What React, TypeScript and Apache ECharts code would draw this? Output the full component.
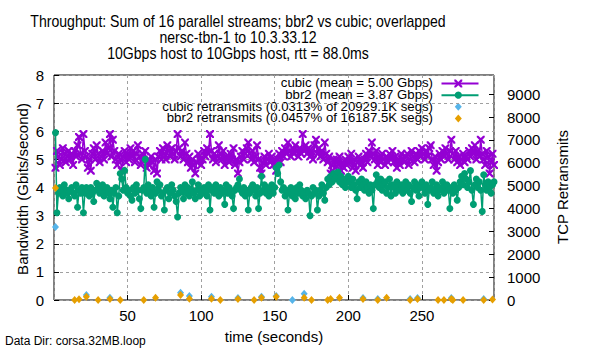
import React, { useEffect, useRef } from "react";
import * as echarts from "echarts";

const titleLines = [
  "Throughput: Sum of 16 parallel streams; bbr2 vs cubic; overlapped",
  "nersc-tbn-1 to 10.3.33.12",
  "10Gbps host to 10Gbps host, rtt = 88.0ms",
];
const legendLabels = [
  "cubic (mean = 5.00 Gbps)",
  "bbr2 (mean = 3.87 Gbps)",
  "cubic retransmits (0.0313% of 20929.1K segs)",
  "bbr2 retransmits (0.0457% of 16187.5K segs)",
];
const seriesNames = ["cubic", "bbr2", "cubic retransmits", "bbr2 retransmits"];
const colors = ["#9400D3", "#009E73", "#56B4E9", "#E69F00"];

const times = Array.from({ length: 299 }, (_, i) => i + 1);

const cubicGbps = [
  4.7, 5.3, 5.1, 4.8, 5.0, 5.4, 5.2, 4.9, 5.1, 5.3,
  5.0, 5.2, 4.8, 5.3, 5.1, 5.5, 5.8, 5.2, 5.0, 5.9,
  5.3, 5.1, 4.7, 5.0, 4.6, 5.2, 5.4, 5.0, 5.5, 5.2,
  4.9, 5.1, 5.3, 5.0, 5.6, 5.2, 5.4, 5.9, 5.1, 5.7,
  5.3, 5.0, 4.8, 5.2, 5.0, 4.6, 5.1, 5.3, 4.9, 5.2,
  5.0, 5.4, 5.1, 5.3, 4.9, 5.2, 5.5, 5.1, 4.8, 5.2,
  5.0, 5.3, 4.7, 5.0, 4.8, 5.1, 4.9, 4.6, 5.0, 4.5,
  5.1, 5.3, 5.0, 5.4, 5.2, 5.0, 5.5, 5.3, 5.1, 5.4,
  5.2, 5.0, 5.3, 5.9, 5.4, 5.1, 5.3, 5.0, 5.6, 5.2,
  4.9, 5.1, 4.7, 5.0, 4.8, 4.5, 4.9, 5.2, 5.0, 4.8,
  5.0, 5.3, 5.1, 5.4, 5.2, 5.9, 5.3, 5.0, 5.2, 4.9,
  5.1, 5.5, 5.2, 5.0, 5.3, 4.8, 5.1, 5.0, 4.9, 5.2,
  5.0, 5.4, 4.8, 5.0, 4.5, 4.9, 5.1, 5.3, 5.0, 5.2,
  5.4, 5.6, 5.2, 5.0, 5.3, 4.9, 5.1, 5.5, 5.0, 4.7,
  4.5, 4.9, 5.1, 4.8, 5.0, 5.2, 4.9, 5.1, 4.8, 5.0,
  4.6, 5.0, 5.2, 4.9, 5.3, 5.1, 5.4, 5.2, 5.6, 5.3,
  5.1, 5.4, 5.2, 5.5, 5.3, 5.1, 5.4, 5.2, 5.9, 5.3,
  5.5, 5.2, 5.4, 5.1, 5.3, 5.0, 5.5, 5.7, 5.2, 5.4,
  5.1, 5.3, 5.0, 5.6, 5.2, 4.9, 5.1, 4.5, 4.8, 5.0,
  4.7, 5.0, 4.8, 5.1, 4.6, 4.9, 4.7, 5.0, 4.8, 5.1,
  4.9, 5.2, 4.7, 5.0, 4.6, 4.9, 5.1, 4.8, 5.0, 4.7,
  5.0, 5.2, 4.9, 5.3, 5.1, 5.6, 5.2, 5.0, 5.3, 4.8,
  5.1, 4.9, 5.2, 5.0, 4.8, 5.1, 4.9, 5.2, 5.0, 5.3,
  4.9, 5.1, 4.7, 5.0, 4.8, 5.2, 5.0, 4.9, 5.1, 5.2,
  4.8, 5.0, 5.3, 5.1, 4.9, 5.2, 5.0, 5.3, 5.1, 5.4,
  5.2, 5.0, 5.3, 5.1, 5.4, 5.5, 5.0, 4.8, 5.1, 4.6,
  4.9, 5.2, 5.0, 5.3, 5.1, 5.4, 5.2, 5.0, 5.3, 5.7,
  5.2, 5.0, 5.3, 4.9, 5.1, 4.8, 5.0, 5.2, 4.9, 5.1,
  5.0, 5.3, 5.1, 5.4, 5.2, 5.5, 5.0, 5.3, 5.1, 5.7,
  5.2, 5.0, 4.8, 5.3, 5.1, 4.5, 4.9, 5.2, 4.8,
];

const bbr2Gbps = [
  5.95, 3.1, 3.8, 4.0, 3.9, 3.7, 4.1, 3.8, 3.9, 3.6,
  3.9, 4.0, 3.8, 3.7, 4.1, 3.3, 3.9, 3.8, 4.0, 3.1,
  3.8, 4.0, 3.9, 3.7, 4.0, 3.8, 3.5, 3.9, 4.15, 4.0,
  3.8, 3.9, 4.1, 3.7, 3.9, 4.0, 3.8, 3.6, 3.9, 3.3,
  3.8, 4.0, 3.1, 3.7, 4.5, 4.3, 3.9, 4.6, 4.0, 3.8,
  3.9, 3.7, 3.55, 4.0, 3.8, 4.1, 3.9, 3.6, 3.25, 3.9,
  4.0, 5.0, 3.8, 4.1, 3.9, 3.7, 4.0, 3.3, 3.8, 4.2,
  3.9, 4.1, 3.7, 3.8, 3.2, 3.9, 4.0, 3.6, 3.8, 4.1,
  3.9, 3.7, 3.5, 2.95, 3.8, 4.0, 3.9, 3.6, 4.1, 3.8,
  4.0, 3.7, 3.9, 4.2, 3.8, 3.6, 3.9, 4.1, 3.7, 3.9,
  3.8, 4.0, 3.9, 3.7, 4.1, 3.2, 3.9, 4.0, 3.8, 4.1,
  3.9, 3.7, 4.0, 3.8, 3.9, 3.4, 4.1, 3.8, 4.0, 3.9,
  3.7, 3.25, 3.9, 4.0, 4.1, 4.3, 3.9, 3.8, 4.0, 3.7,
  3.9, 3.2, 3.8, 4.0, 4.1, 3.9, 3.7, 4.0, 3.25, 3.8,
  4.4, 3.9, 4.1, 3.8, 4.0, 3.7, 3.9, 4.1, 3.8, 4.0,
  4.7, 4.5, 4.8, 4.2, 3.9, 4.0, 3.7, 3.9, 3.2, 3.8,
  4.0, 3.7, 3.9, 3.6, 4.0, 3.8, 4.1, 3.9, 3.7, 3.8,
  3.6, 3.9, 3.8, 3.0, 3.7, 4.0, 3.8, 3.9, 3.2, 3.7,
  3.9, 4.1, 3.8, 3.55, 4.0, 4.3, 4.1, 4.4, 4.2, 4.5,
  4.3, 4.4, 4.55, 4.2, 4.4, 4.1, 4.3, 4.0, 4.2, 4.4,
  4.2, 4.0, 4.3, 4.1, 3.9, 3.6, 4.2, 4.0, 4.3, 4.1,
  3.9, 4.2, 4.0, 3.8, 4.1, 3.9, 3.25, 4.1, 4.45, 4.2,
  4.0, 4.3, 3.9, 4.1, 4.2, 3.8, 4.0, 4.3, 3.7, 4.1,
  4.0, 3.8, 4.2, 4.0, 3.9, 4.1, 3.8, 4.0, 4.2, 3.9,
  4.1, 3.8, 3.5, 4.0, 4.2, 3.9, 4.1, 3.7, 4.0, 4.2,
  4.0, 3.8, 4.1, 3.4, 3.9, 4.0, 4.2, 3.8, 3.9, 4.1,
  3.7, 4.0, 3.9, 4.2, 3.8, 4.0, 4.1, 3.9, 3.25, 4.0,
  3.8, 4.1, 3.9, 3.55, 4.0, 4.2, 4.4, 4.1, 4.5, 4.3,
  4.0, 4.2, 4.6, 3.9, 3.4, 4.1, 4.3, 4.0, 4.2, 3.9,
  3.15, 4.45, 4.1, 3.9, 4.2, 4.0, 3.8, 4.1, 4.2,
];

const cubicRetransTimes = [1, 22, 38, 86, 92, 107, 125, 141, 151, 162, 170, 210, 220, 242, 247, 270, 292];
const cubicRetrans = [3190, 220, 100, 320, 180, 145, 90, 145, 180, 0, 270, 90, 40, 40, 90, 90, 40];
const bbr2RetransTimes = [1, 14, 17, 22, 30, 38, 45, 61, 69, 86, 92, 107, 113, 125, 136, 141, 151, 170, 175, 186, 188, 194, 210, 220, 226, 242, 247, 261, 265, 270, 271, 278, 292, 298];
const bbr2Retrans = [4900, 0, 30, 145, 0, 45, 0, 0, 100, 220, 50, 50, 0, 40, 0, 100, 145, 100, 0, 0, 40, 100, 40, 0, 100, 0, 40, 0, 0, 40, 0, 0, 0, 20];

const FONT = "'Liberation Sans', Arial, sans-serif";
const X_SYMBOL =
  "path://M0,0L2,0L5,3L8,0L10,0L10,2L7,5L10,8L10,10L8,10L5,7L2,10L0,10L0,8L3,5L0,2Z";
const X_POINTS = [
  [0, 0], [2, 0], [5, 3], [8, 0], [10, 0], [10, 2], [7, 5], [10, 8],
  [10, 10], [8, 10], [5, 7], [2, 10], [0, 10], [0, 8], [3, 5], [0, 2],
];

export default function App() {
  const ref = useRef<HTMLDivElement>(null);

  useEffect(() => {
    if (!ref.current) return;
    const chart = echarts.init(ref.current, undefined, { renderer: "svg" });

    const legX = 458.3;
    const legLineH = 11.6;
    const legCenter = 101;
    const legRows = legendLabels.map((_, i) => legCenter + (i - 1.5) * legLineH);
    const legendGraphics: any[] = [];
    legendLabels.forEach((lab, i) => {
      const cy = legRows[i];
      legendGraphics.push({
        type: "text",
        x: 433,
        y: cy,
        scaleX: 1.1,
        style: {
          text: lab,
          fontSize: 12,
          lineHeight: 11,
          fontFamily: FONT,
          fill: "#000",
          align: "right",
          verticalAlign: "middle",
        },
      });
      if (i < 2) {
        legendGraphics.push({
          type: "line",
          shape: { x1: 441.5, y1: cy, x2: 478.5, y2: cy },
          style: { stroke: colors[i], lineWidth: 2 },
        });
      }
      if (i === 0) {
        legendGraphics.push({
          type: "polygon",
          shape: { points: X_POINTS.map(([px, py]) => [legX - 4 + px * 0.8, cy - 4 + py * 0.8]) },
          style: { fill: colors[i] },
        });
      } else if (i === 1) {
        legendGraphics.push({
          type: "circle",
          shape: { cx: legX, cy, r: 3.6 },
          style: { fill: colors[i] },
        });
      } else {
        legendGraphics.push({
          type: "polygon",
          shape: { points: [[legX, cy - 4], [legX + 3.5, cy], [legX, cy + 4], [legX - 3.5, cy]] },
          style: { fill: colors[i] },
        });
      }
    });

    chart.setOption({
      animation: false,
      textStyle: { fontFamily: FONT },
      grid: {
        left: 54,
        right: 106,
        top: 75,
        bottom: 50,
        show: true,
        borderColor: "#000",
        borderWidth: 1,
        backgroundColor: "transparent",
      },
      xAxis: {
        type: "value",
        min: 0,
        max: 299,
        interval: 50,
        axisLine: { show: false },
        axisTick: { show: true, inside: true, length: 5, lineStyle: { color: "#000" } },
        axisLabel: {
          color: "#000",
          fontSize: 15,
          fontFamily: FONT,
          margin: 8,
          showMinLabel: false,
          showMaxLabel: false,
          formatter: (v: number) => (v % 50 === 0 ? String(v) : ""),
        },
        splitLine: { show: true, lineStyle: { color: "#a0a0a0", type: [3, 3], width: 1 } },
      },
      yAxis: [
        {
          type: "value",
          min: 0,
          max: 8,
          interval: 1,
          axisLine: { show: false },
          axisTick: { show: true, inside: true, length: 5, lineStyle: { color: "#000" } },
          axisLabel: { color: "#000", fontSize: 15, fontFamily: FONT, margin: 10 },
          splitLine: { show: true, lineStyle: { color: "#a0a0a0", type: [3, 3], width: 1 } },
        },
        {
          type: "value",
          position: "right",
          min: 0,
          max: 9840,
          interval: 1000,
          axisLine: { show: false },
          axisTick: { show: true, inside: true, length: 5, lineStyle: { color: "#000" } },
          axisLabel: {
            color: "#000",
            fontSize: 15,
            fontFamily: FONT,
            margin: 13,
            showMaxLabel: false,
            formatter: (v: number) => (v % 1000 === 0 ? String(v) : ""),
          },
          splitLine: { show: false },
        },
      ],
      series: [
        {
          name: seriesNames[0],
          type: "line",
          data: times.map((t, i) => [t, cubicGbps[i]]),
          symbol: X_SYMBOL,
          symbolSize: 8,
          showAllSymbol: true,
          itemStyle: { color: colors[0] },
          lineStyle: { color: colors[0], width: 1.5 },
          z: 2,
        },
        {
          name: seriesNames[1],
          type: "line",
          data: times.map((t, i) => [t, bbr2Gbps[i]]),
          symbol: "circle",
          symbolSize: 7,
          showAllSymbol: true,
          itemStyle: { color: colors[1] },
          lineStyle: { color: colors[1], width: 1.5 },
          z: 3,
        },
        {
          name: seriesNames[2],
          type: "scatter",
          yAxisIndex: 1,
          data: cubicRetransTimes.map((t, i) => [t, cubicRetrans[i]]),
          symbol: "diamond",
          symbolSize: [7, 8],
          itemStyle: { color: colors[2], opacity: 1 },
          clip: false,
          z: 4,
        },
        {
          name: seriesNames[3],
          type: "scatter",
          yAxisIndex: 1,
          data: bbr2RetransTimes.map((t, i) => [t, bbr2Retrans[i]]),
          symbol: "diamond",
          symbolSize: [7, 8],
          itemStyle: { color: colors[3], opacity: 1 },
          clip: false,
          z: 5,
        },
      ],
      graphic: [
        {
          type: "text",
          x: 238,
          y: 37.5,
          scaleX: 0.88,
          style: {
            text: titleLines.join("\n"),
            fontSize: 16,
            lineHeight: 16,
            fontFamily: FONT,
            fill: "#000",
            align: "center",
            verticalAlign: "middle",
          },
        },
        {
          type: "text",
          x: 22,
          y: 189,
          rotation: Math.PI / 2,
          style: { text: "Bandwidth (Gbits/second)", fontSize: 15, fontFamily: FONT, fill: "#000", align: "center", verticalAlign: "middle" },
        },
        {
          type: "text",
          x: 562,
          y: 187,
          rotation: Math.PI / 2,
          style: { text: "TCP Retransmits", fontSize: 15, fontFamily: FONT, fill: "#000", align: "center", verticalAlign: "middle" },
        },
        {
          type: "text",
          x: 274,
          y: 336.5,
          style: { text: "time (seconds)", fontSize: 15, fontFamily: FONT, fill: "#000", align: "center", verticalAlign: "middle" },
        },
        {
          type: "text",
          x: 5,
          y: 340.5,
          style: { text: "Data Dir: corsa.32MB.loop", fontSize: 12, fontFamily: FONT, fill: "#000", align: "left", verticalAlign: "middle" },
        },
        ...legendGraphics,
      ],
    });

    return () => chart.dispose();
  }, []);

  return <div ref={ref} style={{ width: 600, height: 350, position: "absolute", left: 0, top: 0 }} />;
}
